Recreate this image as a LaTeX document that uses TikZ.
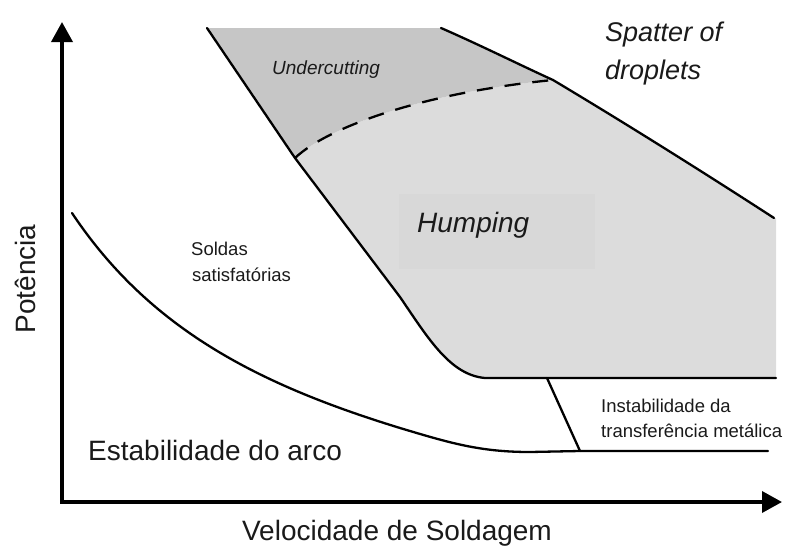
\documentclass[tikz,border=0pt]{standalone}
\usepackage{fontspec}
\setmainfont{Liberation Sans}
\usetikzlibrary{arrows.meta}
\definecolor{undergray}{HTML}{C6C6C6}
\definecolor{humpgray}{HTML}{DCDCDC}
\definecolor{humpbox}{HTML}{D8D8D8}
\definecolor{textgray}{HTML}{1A1A1A}
\tikzset{
  axisline/.style={line width=3.6pt, -{Triangle[length=20pt,width=21pt]}},
  bound/.style={line width=2.3pt, line join=round, line cap=round},
  dashbound/.style={line width=2.3pt, dash pattern=on 16pt off 12pt},
  lbl/.style={inner sep=0pt, text=textgray},
}
\begin{document}
\begin{tikzpicture}[x=1pt,y=-1pt]
\useasboundingbox (0,0) rectangle (796,547);
% key points
\coordinate (O) at (62,502);
\coordinate (Ytip) at (62,22);
\coordinate (Xtip) at (782,502);
\coordinate (TL) at (207,28);
\coordinate (TR) at (441,28);
\coordinate (DR) at (553,80);
\coordinate (DL) at (295,158);
\coordinate (LK) at (400,297);
\coordinate (RT) at (774,218);
\coordinate (RB) at (776,378);
\coordinate (BL) at (485,378);
\coordinate (JT) at (547,378);
\coordinate (JB) at (580,451);
\coordinate (FE) at (768,451);
\coordinate (SC0) at (72,213);
\coordinate (SC1) at (400,428);
\coordinate (SC2) at (530,452);
% fills
\fill[humpgray] (DL) .. controls (330,125) and (430,92) .. (DR)
  .. controls (620,120) and (700,170) .. (RT) -- (776,218) -- (RB) -- (BL)
  .. controls (450,375) and (428,338) .. (LK) -- cycle;
\fill[undergray] (TL) -- (TR) .. controls (480,45) and (520,65) .. (DR)
  .. controls (430,92) and (330,125) .. (DL) -- cycle;
\fill[humpbox] (399,194) rectangle (595,269);
% boundaries
\draw[bound] (TL) -- (DL) -- (LK) .. controls (428,338) and (450,375) .. (BL) -- (RB);
\draw[bound] (TR) .. controls (480,45) and (520,65) .. (DR) .. controls (620,120) and (700,170) .. (RT);
\draw[dashbound] (DL) .. controls (330,125) and (430,92) .. (DR);
\draw[bound] (SC0) .. controls (150,330) and (260,385) .. (SC1)
  .. controls (450,443) and (480,452) .. (SC2) -- (JB) -- (FE);
\draw[bound] (JT) -- (JB);
% axes
\draw[axisline] (O) -- (Ytip);
\draw[axisline] (60.2,502) -- (Xtip);
% labels
\node[lbl, anchor=base west, font=\fontsize{19}{19}\selectfont\itshape] (under) at (272,74) {Undercutting};
\node[lbl, anchor=base west, font=\fontsize{28}{28}\selectfont\itshape] (hump) at (417,232) {Humping};
\node[lbl, anchor=base west, font=\fontsize{27}{27}\selectfont\itshape] (spat1) at (605,41) {Spatter of};
\node[lbl, anchor=base west, font=\fontsize{27}{27}\selectfont\itshape] (spat2) at (605,79) {droplets};
\node[lbl, anchor=base west, font=\fontsize{18.5}{18.5}\selectfont] (sold1) at (191,255) {Soldas};
\node[lbl, anchor=base west, font=\fontsize{18.5}{18.5}\selectfont] (sold2) at (192,281) {satisfatórias};
\node[lbl, anchor=base west, font=\fontsize{28}{28}\selectfont] (estab) at (88,460) {Estabilidade do arco};
\node[lbl, anchor=base west, font=\fontsize{18.5}{18.5}\selectfont] (inst1) at (601,412) {Instabilidade da};
\node[lbl, anchor=base west, font=\fontsize{18.5}{18.5}\selectfont] (inst2) at (601,437) {transferência metálica};
\node[lbl, anchor=base, rotate=90, font=\fontsize{28}{28}\selectfont] (pot) at (35,279) {Potência};
\node[lbl, anchor=base, font=\fontsize{28}{28}\selectfont] (vel) at (397,540) {Velocidade de Soldagem};
\end{tikzpicture}
\end{document}
